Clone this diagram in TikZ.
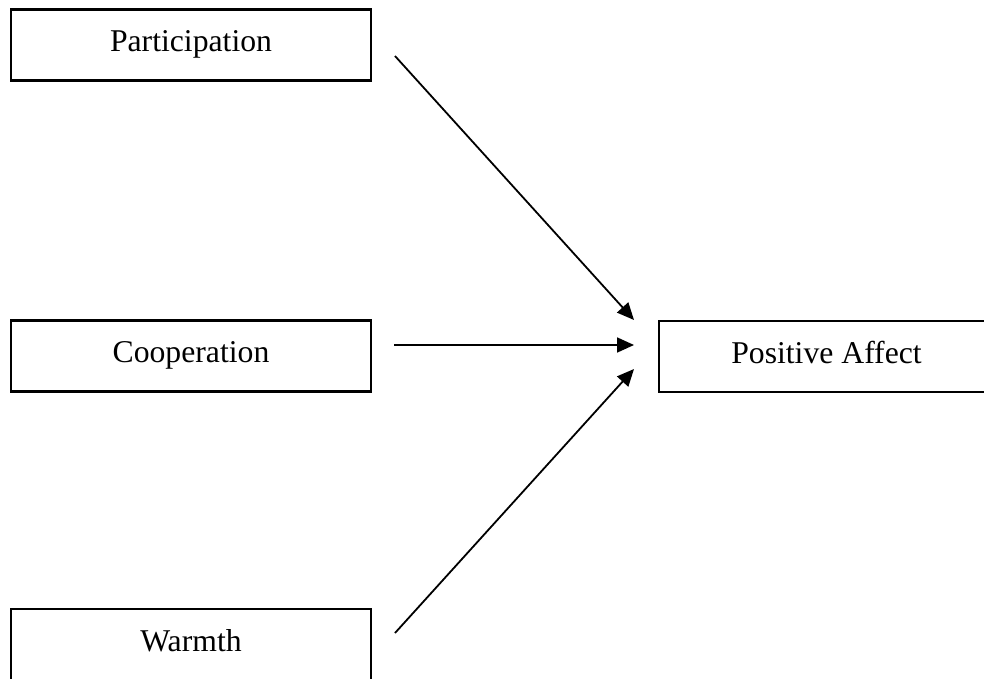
\documentclass[tikz,border=0pt]{standalone}
\usepackage{fontspec}
\setmainfont{Liberation Serif}
\usetikzlibrary{arrows.meta}
\begin{document}
\begin{tikzpicture}[x=1pt,y=-1pt,
  box/.style={draw,line width=2.4pt,minimum height=71pt,inner sep=0pt,
    font=\fontsize{31.7}{38}\selectfont,text height=20pt,text depth=7pt},
  arr/.style={line width=1.8pt,-{Triangle[length=17pt,width=15pt]}}]
\useasboundingbox (0,0) rectangle (984,679);
\node[box,minimum width=360pt] (p) at (191,45) {Participation};
\node[box,minimum width=360pt] (c) at (191,356) {Cooperation};
\node[box,minimum width=360pt] (w) at (191,644.5) {Warmth};
\node[box,minimum width=335pt] (a) at (826.5,356.5) {Positive Affect};
\coordinate (ps) at (395,56);
\coordinate (cs) at (394,345);
\coordinate (ws) at (395,633);
\coordinate (pt) at (634,320);
\coordinate (ct) at (634,345);
\coordinate (wt) at (634,369);
\draw[arr] (ps) -- (pt);
\draw[arr] (cs) -- (ct);
\draw[arr] (ws) -- (wt);
\end{tikzpicture}
\end{document}
